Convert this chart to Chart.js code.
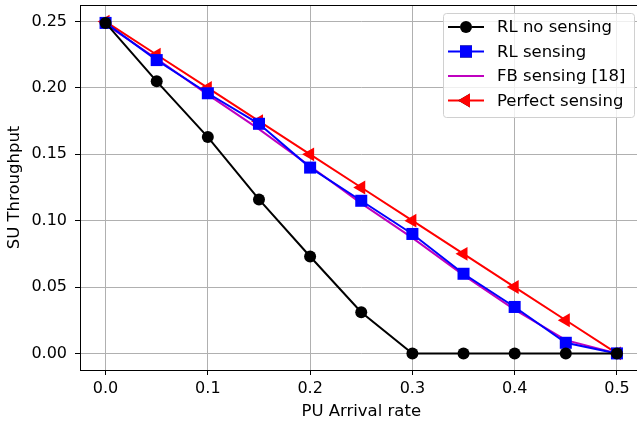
<!DOCTYPE html>
<html>
<head>
<meta charset="utf-8">
<script src="https://cdn.jsdelivr.net/npm/chart.js@4"></script>
<style>
  body { margin: 0; background: #fff; overflow: hidden; }
  #wrap { width: 637px; height: 423px; overflow: hidden; }
</style>
</head>
<body>
<!-- el lienzo es algo más ancho: el borde derecho del gráfico queda recortado como en el original -->
<div id="wrap"><canvas id="chart" width="643" height="423"></canvas></div>
<script>
// Datos
const arrivalRate = [0, 0.05, 0.1, 0.15, 0.2, 0.25, 0.3, 0.35, 0.4, 0.45, 0.5];
const rlNoSensing = [0.249, 0.205, 0.163, 0.116, 0.073, 0.031, 0, 0, 0, 0, 0];
const rlSensing = [0.249, 0.221, 0.196, 0.173, 0.140, 0.115, 0.090, 0.060, 0.035, 0.008, 0];
const fbSensing = [0.248, 0.222, 0.195, 0.169, 0.141, 0.113, 0.087, 0.059, 0.033, 0.010, 0];
const perfectSensing = [0.25, 0.225, 0.2, 0.175, 0.15, 0.125, 0.1, 0.075, 0.05, 0.025, 0];
const xTicks = [0, 0.1, 0.2, 0.3, 0.4, 0.5];
const yTicks = [0, 0.05, 0.1, 0.15, 0.2, 0.25];

const FONT = 'DejaVu Sans';

const toPoints = ys => ys.map((y, i) => ({ x: arrivalRate[i], y }));

// sin relleno extra de las escalas: el área queda donde la fijamos
const noPad = s => {
  s.paddingTop = 0; s.paddingBottom = 0; s.paddingLeft = 0; s.paddingRight = 0;
};

// Marco negro alrededor del área
const framePlugin = {
  id: 'frame',
  afterDraw(chart) {
    const { ctx, chartArea: a } = chart;
    ctx.save();
    ctx.strokeStyle = '#000';
    ctx.lineWidth = 1;
    ctx.strokeRect(Math.round(a.left) + 0.5, Math.round(a.top) + 0.5,
      Math.round(a.right - a.left) - 1, Math.round(a.bottom - a.top));
    ctx.restore();
  }
};

// Leyenda dentro del gráfico (arriba a la derecha)
const legendPlugin = {
  id: 'innerLegend',
  afterDraw(chart) {
    const { ctx } = chart;
    const box = { x: 443, y: 13, w: 191, h: 104 };
    ctx.save();
    ctx.fillStyle = 'rgba(255,255,255,0.8)';
    ctx.strokeStyle = '#d0d0d0';
    ctx.lineWidth = 1;
    ctx.beginPath();
    ctx.roundRect(box.x + 0.5, box.y + 0.5, box.w, box.h, 3);
    ctx.fill();
    ctx.stroke();
    ctx.font = '16.5px "' + FONT + '"';
    ctx.textBaseline = 'middle';
    chart.data.datasets.forEach((ds, i) => {
      const cy = 27 + i * 24.5;
      ctx.strokeStyle = ds.borderColor;
      ctx.lineWidth = ds.borderWidth;
      ctx.beginPath();
      ctx.moveTo(448, cy);
      ctx.lineTo(484, cy);
      ctx.stroke();
      if (ds.pointRadius > 0) {
        Chart.helpers.drawPoint(ctx, {
          pointStyle: ds.pointStyle,
          rotation: ds.pointRotation || 0,
          radius: ds.pointRadius,
          borderWidth: 0
        }, 466, cy);
        ctx.fillStyle = ds.pointBackgroundColor;
        ctx.fill();
      }
      ctx.fillStyle = '#000';
      ctx.fillText(ds.label, 497, cy + 1);
    });
    ctx.restore();
  }
};

const series = (label, data, color, style, radius, rotation) => ({
  label,
  data: toPoints(data),
  borderColor: color,
  backgroundColor: color,
  pointBackgroundColor: color,
  pointBorderColor: color,
  borderWidth: 2,
  pointStyle: style,
  pointRadius: radius,
  pointRotation: rotation || 0,
  pointBorderWidth: 0,
  tension: 0,
  clip: false
});

new Chart(document.getElementById('chart'), {
  type: 'line',
  data: {
    datasets: [
      series('RL no sensing', rlNoSensing, '#000000', 'circle', 6),
      series('RL sensing', rlSensing, '#0000ff', 'rect', 8.5),
      series('FB sensing [18]', fbSensing, '#bf00bf', false, 0),
      series('Perfect sensing', perfectSensing, '#ff0000', 'triangle', 8, -90)
    ]
  },
  options: {
    responsive: false,
    devicePixelRatio: 1,
    animation: false,
    layout: { autoPadding: false, padding: { top: 5, right: 0.5, left: 0, bottom: 0 } },
    plugins: { legend: { display: false }, tooltip: { enabled: false } },
    scales: {
      x: {
        type: 'linear',
        min: -0.025,
        max: 0.525,
        afterBuildTicks: s => { s.ticks = xTicks.map(v => ({ value: v })); },
        afterFit: s => { s.height = 53; noPad(s); },
        border: { display: false },
        grid: { color: '#b0b0b0', lineWidth: 1, tickLength: 5, tickColor: '#000' },
        ticks: {
          color: '#000',
          padding: 4,
          maxRotation: 0,
          font: { family: FONT, size: 16 },
          callback: v => v.toFixed(1)
        },
        title: {
          display: true,
          text: 'PU Arrival rate',
          color: '#000',
          font: { family: FONT, size: 16.5 },
          padding: { top: 0, bottom: 1.5 }
        }
      },
      y: {
        min: -0.0125,
        max: 0.2625,
        afterBuildTicks: s => { s.ticks = yTicks.map(v => ({ value: v })); },
        afterFit: s => { s.width = 80; noPad(s); },
        border: { display: false },
        grid: { color: '#b0b0b0', lineWidth: 1, tickLength: 5, tickColor: '#000' },
        ticks: {
          color: '#000',
          padding: 8,
          font: { family: FONT, size: 16 },
          callback: v => v.toFixed(2)
        },
        title: {
          display: true,
          text: 'SU Throughput',
          color: '#000',
          font: { family: FONT, size: 16.5 },
          padding: { top: 5, bottom: 0 }
        }
      }
    }
  },
  plugins: [framePlugin, legendPlugin]
});
</script>
</body>
</html>
